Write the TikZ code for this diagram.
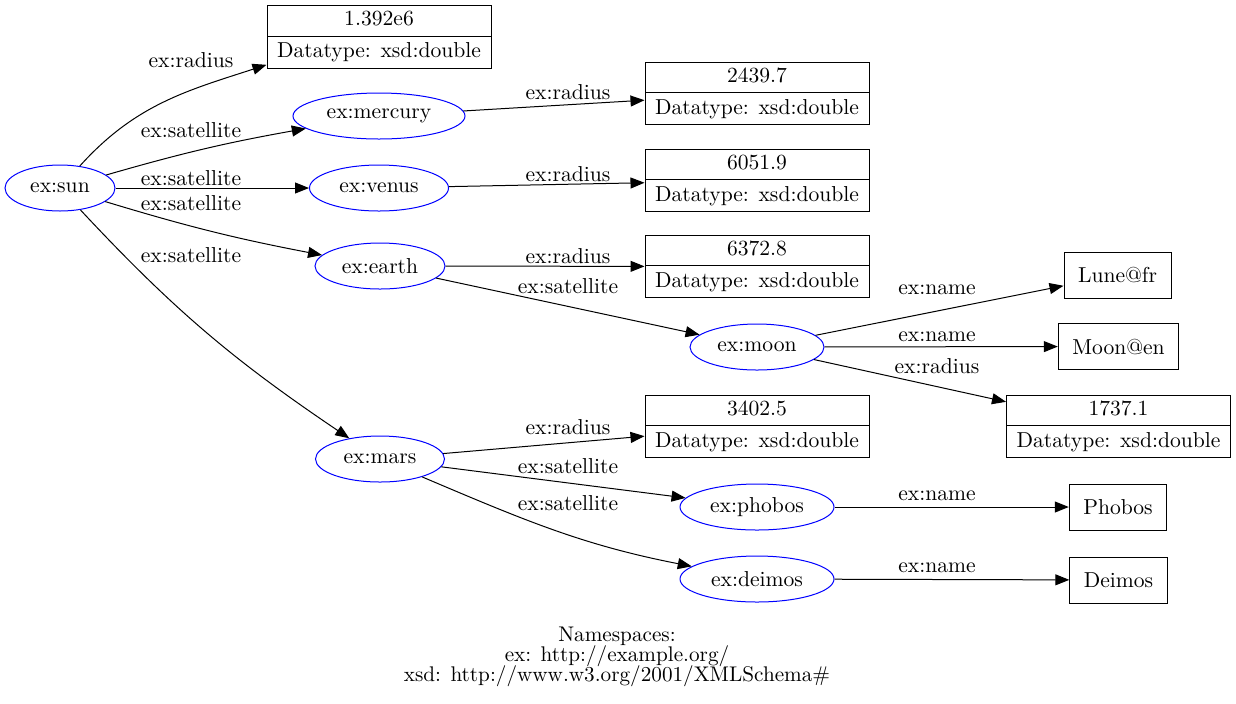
\documentclass[tikz,border=0pt]{standalone}
\usepackage{tikz}
\usepackage{xcolor}
\usetikzlibrary{shapes,arrows.meta,positioning,calc}
\definecolor{rdf-res}{RGB}{0, 0, 255}
\newcommand{\nsfont}{\fontsize{10.6}{9.9}\selectfont\lineskiplimit=-\maxdimen\relax}
\tikzstyle{res}=[ellipse,draw=rdf-res,minimum height=23pt,inner sep=1pt]
\tikzstyle{lit}=[rectangle,draw,minimum height=23pt,inner xsep=7pt]
\tikzstyle{typed}=[rectangle split,rectangle split parts=2,draw,minimum width=112pt,text height=7pt,text depth=2pt,inner ysep=2.9pt,align=center]
\tikzstyle{lbl}=[inner sep=0pt]
\tikzstyle{arrow}=[draw,-{Triangle[length=7pt,width=5.5pt]}]

\begin{document}
\begin{tikzpicture}[x=0.5pt,y=-0.5pt,line width=0.5pt,font=\fontsize{10.8}{13}\selectfont]
    \useasboundingbox (0,0) rectangle (1236,703);

    % resources
    \node[res,minimum width=55pt] at (60,188) (sun) {ex:sun};
    \node[res,minimum width=86pt] at (379,116) (mercury) {ex:mercury};
    \node[res,minimum width=69.5pt] at (379,188) (venus) {ex:venus};
    \node[res,minimum width=65pt] at (380,266) (earth) {ex:earth};
    \node[res,minimum width=64.5pt] at (380,459) (mars) {ex:mars};
    \node[res,minimum width=67pt] at (757,347) (moon) {ex:moon};
    \node[res,minimum width=77pt] at (757,507) (phobos) {ex:phobos};
    \node[res,minimum width=77pt] at (757,579) (deimos) {ex:deimos};

    % literals
    \node[typed] at (379,37) (r1392) {1.392e6\nodepart{two}Datatype: xsd:double};
    \node[typed] at (757,93.5) (r2439) {2439.7\nodepart{two}Datatype: xsd:double};
    \node[typed] at (757,180.5) (r6051) {6051.9\nodepart{two}Datatype: xsd:double};
    \node[typed] at (757,266.5) (r6372) {6372.8\nodepart{two}Datatype: xsd:double};
    \node[typed] at (757,426.5) (r3402) {3402.5\nodepart{two}Datatype: xsd:double};
    \node[typed] at (1118.5,426.5) (r1737) {1737.1\nodepart{two}Datatype: xsd:double};
    \node[lit] at (1117.5,275) (lune) {Lune@fr};
    \node[lit] at (1118.5,346.5) (moonen) {Moon@en};
    \node[lit] at (1118,507) (phobosname) {Phobos};
    \node[lit] at (1118.5,580) (deimosname) {Deimos};

    % edges
    \draw[arrow] (sun) to[out=48,in=198] ([yshift=2pt]r1392.south west);
    \draw[arrow] (sun) to[bend left=3] (mercury);
    \draw[arrow] (sun) -- (venus);
    \draw[arrow] (sun) to[bend right=3] (earth);
    \draw[arrow] (sun) to[out=-47,in=146] (mars);
    \draw[arrow] (mercury) -- (r2439);
    \draw[arrow] (venus) -- (r6051);
    \draw[arrow] (earth) -- (r6372);
    \draw[arrow] (earth) -- (moon);
    \draw[arrow] (moon) -- (lune);
    \draw[arrow] (moon) -- (moonen);
    \draw[arrow] (moon) -- (r1737);
    \draw[arrow] (mars) -- (r3402);
    \draw[arrow] (mars) -- (phobos);
    \draw[arrow] (mars) to[out=-23,in=169] (deimos);
    \draw[arrow] (phobos) -- (phobosname);
    \draw[arrow] (deimos) -- (deimosname);

    % edge labels
    \node[lbl] at (191,60) (lsunr) {ex:radius};
    \node[lbl] at (191,130) (lsunme) {ex:satellite};
    \node[lbl] at (191,178) (lsunv) {ex:satellite};
    \node[lbl] at (191,203) (lsune) {ex:satellite};
    \node[lbl] at (191,255) (lsunma) {ex:satellite};
    \node[lbl] at (568,92) (lmer) {ex:radius};
    \node[lbl] at (568,174) (lvr) {ex:radius};
    \node[lbl] at (568,256) (ler) {ex:radius};
    \node[lbl] at (568,286) (lemo) {ex:satellite};
    \node[lbl] at (937,290) (lmol) {ex:name};
    \node[lbl] at (937,337) (lmon) {ex:name};
    \node[lbl] at (937,366) (lmor) {ex:radius};
    \node[lbl] at (568,427) (lmar) {ex:radius};
    \node[lbl] at (568,466) (lmap) {ex:satellite};
    \node[lbl] at (568,503) (lmad) {ex:satellite};
    \node[lbl] at (937,496) (lpn) {ex:name};
    \node[lbl] at (937,568) (ldn) {ex:name};

    \node[align=center,font=\nsfont] at (617,657) (ns) {Namespaces:\\ex: http://example.org/\\xsd: http://www.w3.org/2001/XMLSchema\#};
\end{tikzpicture}
\end{document}
